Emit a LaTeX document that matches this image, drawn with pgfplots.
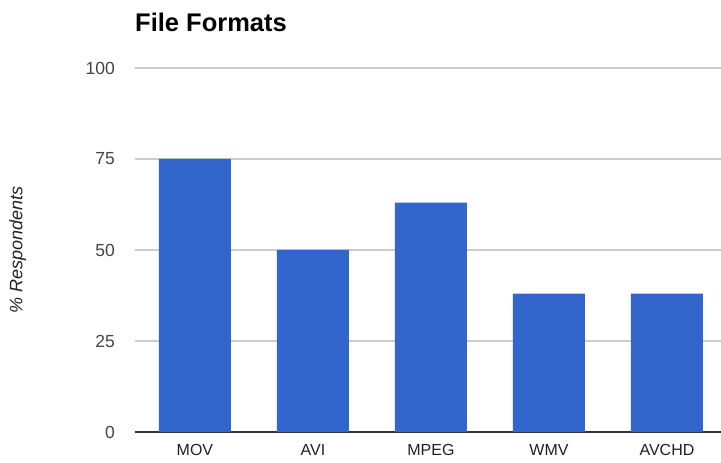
\documentclass[border=0pt]{standalone}
\usepackage{pgfplots}
\pgfplotsset{compat=1.18}
\usepackage{fontspec}
\setmainfont{Liberation Sans}
\definecolor{barblue}{HTML}{3366CC}
\definecolor{gridgray}{HTML}{CCCCCC}
\definecolor{ticktext}{HTML}{444444}
\definecolor{axisdark}{HTML}{333333}
\begin{document}
\begin{tikzpicture}
\begin{axis}[
  at={(135pt,31pt)}, anchor=south west,
  scale only axis, width=586pt, height=364pt,
  xmin=-0.508, xmax=4.458, ymin=0, ymax=100,
  enlargelimits=false,
  ybar, bar width=72pt,
  axis x line=bottom, axis y line=left,
  x axis line style={draw=axisdark, line width=1.6pt, -},
  y axis line style={draw=none},
  xtick={0,1,2,3,4},
  xticklabels={MOV,AVI,MPEG,WMV,AVCHD},
  ytick={0,25,50,75,100},
  major tick length=0pt,
  ymajorgrids, grid style={draw=gridgray, line width=1.2pt},
  /pgf/number format/assume math mode=true,
  yticklabel style={font=\fontsize{17.5}{20}\selectfont, text=ticktext, anchor=east, inner sep=0pt, xshift=-20pt},
  xticklabel style={font=\fontsize{16}{19}\selectfont, text=black!87, anchor=north, inner sep=0pt, yshift=-12pt},
  ylabel={\itshape\% Respondents},
  ylabel style={font=\fontsize{18}{21}\selectfont, text=black!87, at={(axis description cs:-0.2,0.5)}, anchor=center},
  title={\bfseries File Formats},
  title style={font=\fontsize{25.5}{29}\selectfont, at={(axis description cs:0,1)}, anchor=base west, inner sep=0pt, yshift=30pt},
]
\addplot[fill=barblue, draw=none] coordinates {(0,75) (1,50) (2,63) (3,38) (4,38)};
\end{axis}
\pgfresetboundingbox
\path[use as bounding box] (0,0) rectangle (721pt,463pt);
\end{tikzpicture}
\end{document}
